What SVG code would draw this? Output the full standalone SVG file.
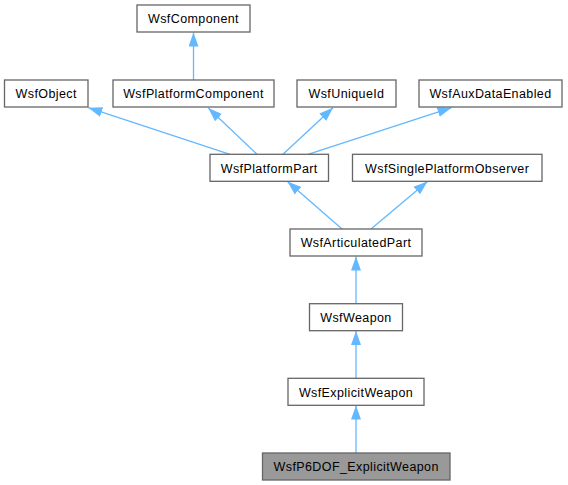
<svg xmlns="http://www.w3.org/2000/svg" width="568" height="485" viewBox="0 0 568 485">
<defs>
<style>
.node rect{fill:#ffffff;stroke:#666666;stroke-width:1.3}
.node.cur rect{fill:#999999}
.node text{font-family:"Liberation Sans",Arial,sans-serif;font-size:12.5px;letter-spacing:0.4px;fill:#000000;text-anchor:middle}
.edges path{fill:none;stroke:#63b8ff;stroke-width:1.3;marker-end:url(#arr)}
</style>
<marker id="arr" markerUnits="userSpaceOnUse" markerWidth="16" markerHeight="12" refX="14" refY="5" orient="auto">
<path d="M0,0 L14,5 L0,10 z" fill="#63b8ff" stroke="none"/>
</marker>
</defs>
<rect x="0" y="0" width="568" height="485" fill="#ffffff"/>
<g class="edges" id="edges">
<path d="M193.5,80 L193.5,32.5"/>
<path d="M230,154.3 L88.3,107.7"/>
<path d="M257,154.3 L208.3,108"/>
<path d="M283,154.3 L333,107.7"/>
<path d="M308,154.3 L451.5,107.7"/>
<path d="M342,229 L287.5,181.5"/>
<path d="M371,229 L427.5,181.5"/>
<path d="M356,303.7 L356,256.5"/>
<path d="M356,378.3 L356,331"/>
<path d="M356,453 L356,405.5"/>
</g>
<g class="node" id="WsfComponent"><rect x="137" y="5" width="113" height="27"/><text x="193.5" y="23.3">WsfComponent</text></g>
<g class="node" id="WsfObject"><rect x="4.5" y="80" width="83.5" height="27"/><text x="46.2" y="98.3">WsfObject</text></g>
<g class="node" id="WsfPlatformComponent"><rect x="113" y="80" width="161" height="27"/><text x="193.5" y="98.3">WsfPlatformComponent</text></g>
<g class="node" id="WsfUniqueId"><rect x="297" y="80" width="99" height="27"/><text x="346.5" y="98.3">WsfUniqueId</text></g>
<g class="node" id="WsfAuxDataEnabled"><rect x="419" y="80" width="143" height="27"/><text x="490.5" y="98.3">WsfAuxDataEnabled</text></g>
<g class="node" id="WsfPlatformPart"><rect x="210" y="154.3" width="118.5" height="27"/><text x="269.2" y="172.6">WsfPlatformPart</text></g>
<g class="node" id="WsfSinglePlatformObserver"><rect x="352.5" y="154.3" width="189.5" height="27"/><text x="447.2" y="172.6">WsfSinglePlatformObserver</text></g>
<g class="node" id="WsfArticulatedPart"><rect x="290" y="229" width="132" height="27"/><text x="356" y="247.3">WsfArticulatedPart</text></g>
<g class="node" id="WsfWeapon"><rect x="309.5" y="303.7" width="93" height="27"/><text x="356" y="322">WsfWeapon</text></g>
<g class="node" id="WsfExplicitWeapon"><rect x="288" y="378.3" width="136" height="27"/><text x="356" y="396.6">WsfExplicitWeapon</text></g>
<g class="node cur" id="WsfP6DOF_ExplicitWeapon"><rect x="262.5" y="453" width="187.5" height="27"/><text x="356.2" y="471.3">WsfP6DOF_ExplicitWeapon</text></g>
</svg>
